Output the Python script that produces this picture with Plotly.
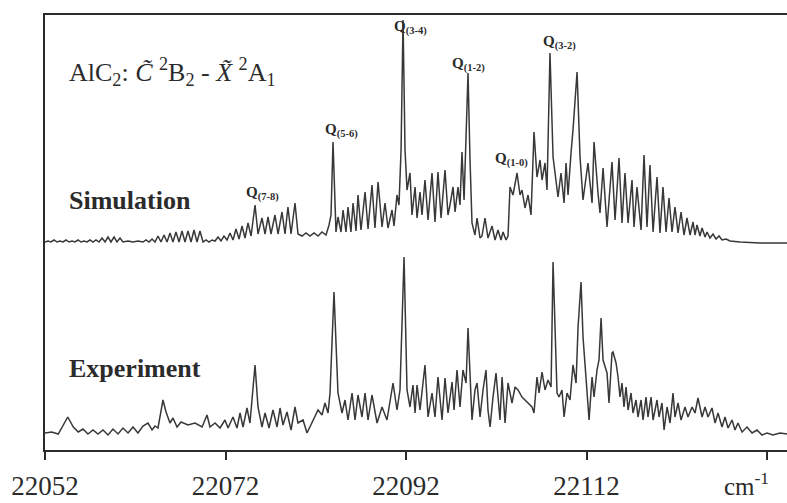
import plotly.graph_objects as go

# ---------------------------------------------------------------
# AlC2  C~ 2B2 - X~ 2A1 band: simulated vs. experimental spectrum
# wavenumbers in cm^-1, intensities in arbitrary units
# ---------------------------------------------------------------

SIM_WAVENUMBER = [
    22052.00, 22052.33, 22052.66, 22053.00, 22053.33, 22053.66, 22053.99, 22054.33, 22054.66, 22054.99,
    22055.32, 22055.66, 22055.99, 22056.32, 22056.65, 22056.99, 22057.32, 22057.65, 22057.98, 22058.32,
    22058.65, 22058.98, 22059.31, 22059.65, 22059.98, 22060.31, 22060.64, 22061.20, 22061.75, 22062.30,
    22062.86, 22063.19, 22063.52, 22063.86, 22064.19, 22064.52, 22064.85, 22065.19, 22065.52, 22065.85,
    22066.18, 22066.51, 22066.85, 22067.18, 22067.51, 22067.84, 22068.18, 22068.51, 22068.84, 22069.17,
    22069.51, 22069.84, 22070.17, 22070.50, 22070.84, 22071.17, 22071.50, 22071.83, 22072.17, 22072.50,
    22072.83, 22073.16, 22073.50, 22073.83, 22074.16, 22074.49, 22074.83, 22075.27, 22075.60, 22076.04,
    22076.38, 22076.71, 22077.04, 22077.48, 22077.82, 22078.26, 22078.59, 22078.92, 22079.26, 22079.70,
    22080.03, 22080.48, 22080.92, 22081.36, 22081.81, 22082.25, 22082.69, 22083.13, 22083.47, 22083.69,
    22083.91, 22084.13, 22084.24, 22084.46, 22084.80, 22085.02, 22085.35, 22085.57, 22085.90, 22086.13,
    22086.46, 22086.68, 22087.01, 22087.46, 22087.79, 22088.23, 22088.56, 22088.90, 22089.34, 22089.67,
    22090.00, 22090.45, 22090.67, 22091.00, 22091.22, 22091.45, 22091.67, 22091.89, 22092.11, 22092.44,
    22092.66, 22093.00, 22093.22, 22093.55, 22093.77, 22094.10, 22094.44, 22094.88, 22095.21, 22095.54,
    22095.88, 22096.32, 22096.65, 22096.87, 22097.21, 22097.43, 22097.76, 22097.98, 22098.20, 22098.43,
    22098.65, 22098.87, 22099.09, 22099.31, 22099.64, 22099.87, 22100.20, 22100.42, 22100.75, 22101.08,
    22101.53, 22101.86, 22102.19, 22102.52, 22102.75, 22103.08, 22103.30, 22103.52, 22103.85, 22104.30,
    22104.63, 22104.85, 22105.18, 22105.52, 22105.85, 22106.18, 22106.51, 22106.85, 22107.07, 22107.40,
    22107.62, 22107.95, 22108.29, 22108.62, 22108.84, 22109.17, 22109.51, 22109.73, 22109.95, 22110.28,
    22110.50, 22110.95, 22111.28, 22111.61, 22112.16, 22112.61, 22112.83, 22113.27, 22113.49, 22113.83,
    22114.27, 22114.82, 22115.16, 22115.60, 22115.93, 22116.26, 22116.60, 22117.04, 22117.26, 22117.59,
    22118.04, 22118.37, 22118.70, 22119.03, 22119.37, 22119.81, 22120.14, 22120.47, 22120.81, 22121.14,
    22121.47, 22121.80, 22122.14, 22122.47, 22122.80, 22123.13, 22123.47, 22123.80, 22124.02, 22124.24,
    22124.57, 22124.80, 22125.13, 22125.35, 22125.68, 22126.01, 22126.35, 22126.68, 22127.01, 22127.46,
    22127.90, 22129.01, 22131.22, 22134.21,
]

SIM_INTENSITY = [
    0, 1, 0, 2, 0, 1, 0, 2, 0, 1,
    0, 2, 0, 1, 0, 2, 0, 2, 0, 4,
    0, 5, 0, 5, 0, 4, 0, 1, 0, 1,
    0, 2, 0, 3, 0, 6, 0, 7, 0, 9,
    0, 10, 0, 11, 0, 11, 0, 12, 0, 11,
    0, 2, 0, 2, 1, 5, 1, 6, 2, 9,
    2, 13, 3, 16, 4, 19, 6, 37, 8, 24,
    8, 25, 8, 27, 8, 30, 8, 35, 8, 39,
    8, 6, 9, 6, 9, 6, 10, 7, 17, 27,
    100, 27, 10, 25, 10, 32, 10, 35, 10, 39,
    11, 47, 12, 50, 13, 57, 14, 60, 15, 39,
    14, 32, 16, 47, 37, 92, 222, 92, 52, 69,
    27, 55, 24, 50, 27, 62, 22, 69, 20, 70,
    24, 72, 27, 37, 55, 30, 55, 37, 90, 42,
    102, 169, 82, 19, 7, 24, 4, 6, 24, 4,
    16, 2, 12, 2, 10, 2, 6, 55, 47, 69,
    47, 52, 34, 47, 27, 110, 65, 82, 62, 79,
    52, 189, 85, 62, 45, 69, 39, 79, 47, 89,
    112, 170, 85, 42, 79, 39, 100, 49, 29, 74,
    15, 80, 22, 84, 19, 69, 19, 62, 15, 55,
    12, 87, 15, 77, 10, 65, 9, 55, 10, 44,
    10, 35, 9, 30, 7, 24, 7, 20, 7, 17,
    6, 14, 5, 10, 4, 8, 3, 6, 2, 3,
    1, 0, -1, -1,
]

EXP_WAVENUMBER = [
    22052.00, 22052.74, 22053.47, 22054.52, 22055.14, 22055.69, 22056.21, 22056.76, 22057.32, 22057.87,
    22058.43, 22058.98, 22059.53, 22060.09, 22060.64, 22061.20, 22061.75, 22062.30, 22062.86, 22063.41,
    22063.86, 22064.19, 22064.52, 22065.07, 22065.41, 22065.85, 22066.18, 22066.63, 22067.07, 22067.84,
    22068.62, 22069.40, 22069.95, 22070.28, 22070.84, 22071.39, 22071.94, 22072.28, 22072.83, 22073.27,
    22073.61, 22073.94, 22074.38, 22074.71, 22075.27, 22075.60, 22076.04, 22076.38, 22076.82, 22077.26,
    22077.71, 22078.04, 22078.37, 22078.81, 22079.26, 22079.70, 22080.03, 22080.59, 22081.03, 22081.58,
    22081.92, 22082.25, 22082.69, 22083.02, 22083.36, 22083.58, 22084.02, 22084.46, 22084.91, 22085.24,
    22085.57, 22086.02, 22086.35, 22086.68, 22087.12, 22087.46, 22087.79, 22088.23, 22088.79, 22089.34,
    22089.89, 22090.56, 22091.00, 22091.33, 22091.78, 22092.11, 22092.44, 22092.77, 22093.00, 22093.22,
    22093.55, 22093.77, 22094.10, 22094.44, 22094.88, 22095.21, 22095.54, 22095.99, 22096.32, 22096.65,
    22097.10, 22097.32, 22097.65, 22097.98, 22098.31, 22098.65, 22098.87, 22099.31, 22099.64, 22099.87,
    22100.20, 22100.53, 22100.86, 22101.08, 22101.31, 22101.64, 22101.97, 22102.41, 22102.64, 22102.97,
    22103.30, 22103.74, 22104.08, 22104.41, 22104.85, 22105.18, 22105.52, 22105.96, 22106.18, 22106.51,
    22106.74, 22107.07, 22107.40, 22107.73, 22108.07, 22108.29, 22108.73, 22108.95, 22109.28, 22109.51,
    22109.84, 22110.17, 22110.50, 22110.84, 22111.06, 22111.39, 22111.61, 22111.94, 22112.28, 22112.61,
    22112.83, 22113.16, 22113.38, 22113.61, 22113.83, 22114.27, 22114.49, 22114.82, 22114.93, 22115.27,
    22115.49, 22115.71, 22115.93, 22116.15, 22116.38, 22116.60, 22116.93, 22117.15, 22117.48, 22117.70,
    22118.04, 22118.26, 22118.59, 22118.81, 22119.15, 22119.37, 22119.81, 22120.03, 22120.36, 22120.59,
    22120.92, 22121.25, 22121.58, 22121.80, 22122.14, 22122.47, 22122.91, 22123.24, 22123.69, 22124.02,
    22124.35, 22124.80, 22125.13, 22125.46, 22125.90, 22126.24, 22126.57, 22127.01, 22127.34, 22127.68,
    22128.12, 22128.45, 22128.78, 22129.23, 22129.78, 22130.34, 22130.89, 22131.44, 22132.00, 22132.66,
    22133.44, 22134.21,
]

EXP_INTENSITY = [
    0, 1, -1, 16, 6, 1, 4, -1, 3, -1,
    3, -2, 4, -1, 5, 0, 6, 0, 7, 10,
    3, 7, 5, 33, 21, 10, 15, 6, 11, 8,
    10, 6, 18, 6, 10, 5, 13, 5, 16, 5,
    20, 6, 25, 10, 68, 26, 6, 20, 5, 23,
    6, 25, 8, 21, 3, 26, 10, 13, 0, 10,
    16, 23, 18, 30, 20, 40, 141, 40, 20, 33,
    13, 40, 13, 38, 16, 40, 13, 38, 10, 26,
    13, 50, 23, 43, 176, 43, 26, 48, 20, 48,
    23, 40, 68, 16, 40, 16, 56, 13, 55, 20,
    51, 23, 63, 26, 63, 50, 105, 13, 43, 50,
    16, 43, 63, 23, 6, 36, 60, 13, 56, 10,
    50, 30, 46, 43, 36, 33, 30, 26, 20, 56,
    40, 61, 43, 53, 46, 171, 40, 36, 43, 16,
    40, 33, 68, 50, 106, 151, 96, 50, 13, 56,
    36, 63, 73, 115, 73, 60, 30, 80, 81, 70,
    56, 36, 50, 26, 46, 23, 40, 20, 33, 16,
    33, 13, 36, 16, 36, 13, 33, 16, 30, 3,
    26, 10, 40, 16, 30, 13, 26, 16, 26, 20,
    35, 16, 26, 16, 25, 10, 20, 6, 16, 5,
    13, 3, 10, 1, 6, 0, 3, -2, 0, -2,
    0, -1,
]

# Q-branch heads marked on the simulated trace
Q_LABELS = ["(7-8)", "(5-6)", "(3-4)", "(1-2)", "(1-0)", "(3-2)"]
Q_LABEL_X = [22076.15, 22084.80, 22092.55, 22098.87, 22103.74, 22108.95]
Q_LABEL_Y = [257, 320, 423, 386, 291, 408]

TICK_VALUES = [22052, 22072, 22092, 22112, 22132]
TICK_TEXT = ["22052", "22072", "22092", "22112", ""]

# vertical placement of the two stacked traces
SIM_OFFSET = 208
EXP_OFFSET = 17

INK = "#2b2b2b"
LINE = "#383838"
SERIF = "Liberation Serif, Times New Roman, serif"

fig = go.Figure()
fig.add_trace(go.Scatter(
    x=SIM_WAVENUMBER,
    y=[v + SIM_OFFSET for v in SIM_INTENSITY],
    mode="lines", line=dict(color=LINE, width=1.5),
    name="Simulation", showlegend=False,
))
fig.add_trace(go.Scatter(
    x=EXP_WAVENUMBER,
    y=[v + EXP_OFFSET for v in EXP_INTENSITY],
    mode="lines", line=dict(color=LINE, width=1.5),
    name="Experiment", showlegend=False,
))

annotations = [
    dict(x=22054.4, y=378, xref="x", yref="y", xanchor="left", yanchor="middle",
         text="AlC<sub>2</sub>: <i>C\u0303</i> <sup>2</sup>B<sub>2</sub> - <i>X\u0303</i> <sup>2</sup>A<sub>1</sub>",
         showarrow=False, font=dict(family=SERIF, size=26, color=INK)),
    dict(x=22054.4, y=250, xref="x", yref="y", xanchor="left", yanchor="middle",
         text="<b>Simulation</b>", showarrow=False,
         font=dict(family=SERIF, size=26, color=INK)),
    dict(x=22054.4, y=82, xref="x", yref="y", xanchor="left", yanchor="middle",
         text="<b>Experiment</b>", showarrow=False,
         font=dict(family=SERIF, size=26, color=INK)),
    dict(x=22129.7, y=-0.078, xref="x", yref="paper", xanchor="center", yanchor="middle",
         text="cm<sup>-1</sup>", showarrow=False,
         font=dict(family=SERIF, size=25, color=INK)),
]
for sub, qx, qy in zip(Q_LABELS, Q_LABEL_X, Q_LABEL_Y):
    annotations.append(dict(
        x=qx, y=qy, xref="x", yref="y", xanchor="center", yanchor="middle",
        text=f"<b>Q<sub>{sub}</sub></b>", showarrow=False,
        font=dict(family=SERIF, size=15, color=INK),
    ))

fig.update_layout(
    width=787, height=503,
    margin=dict(l=45, r=0, t=15, b=53),
    paper_bgcolor="white", plot_bgcolor="white",
    annotations=annotations,
    xaxis=dict(
        range=[22052, 22134.21],
        tickmode="array", tickvals=TICK_VALUES, ticktext=TICK_TEXT,
        ticks="outside", ticklen=8, tickwidth=1.5, tickcolor=INK,
        showline=True, linecolor=INK, linewidth=2, mirror=True,
        showgrid=False, zeroline=False, ticklabelstandoff=3,
        tickfont=dict(family=SERIF, size=27, color=INK),
    ),
    yaxis=dict(
        range=[0, 435],
        showline=True, linecolor=INK, linewidth=2, mirror=False,
        showticklabels=False, ticks="", showgrid=False, zeroline=False,
    ),
)

fig.write_html("out.html")
